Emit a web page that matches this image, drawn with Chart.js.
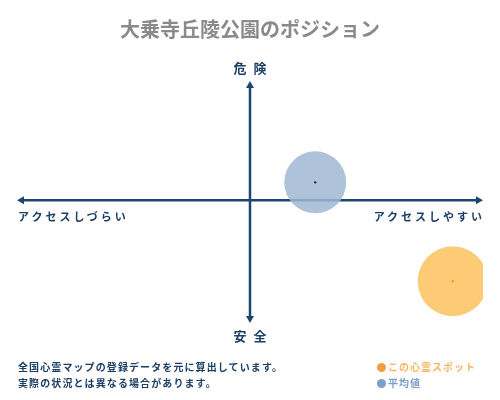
<!DOCTYPE html>
<html><head><meta charset="utf-8">
<script src="https://cdn.jsdelivr.net/npm/chart.js@4"></script>
<style>
html,body{margin:0;padding:0;background:#fff;width:500px;height:400px;overflow:hidden;}
body{position:relative;font-family:"Noto Sans CJK JP","Noto Sans",sans-serif;}
#c{position:absolute;left:0;top:0;}
.t{position:absolute;white-space:nowrap;line-height:1;}
#title{left:0;width:500px;text-align:center;top:19px;font-size:20px;font-weight:bold;color:#8a8a8a;}
.ax{color:#1c3f66;font-weight:bold;}
#top{left:0;width:500px;text-align:center;top:61px;font-size:13px;letter-spacing:7px;text-indent:7px;}
#bottom{left:0;width:500px;text-align:center;top:329px;font-size:13px;letter-spacing:7px;text-indent:7px;}
#left{left:18px;top:211px;font-size:11px;letter-spacing:3px;}
#right{right:15px;top:211px;font-size:11px;letter-spacing:3px;}
.note{left:18px;font-size:10px;letter-spacing:1.1px;color:#1c3f66;font-weight:bold;}
.leg{left:377px;font-size:10px;letter-spacing:1px;font-weight:bold;}
.dot{display:inline-block;width:9px;height:9px;border-radius:50%;vertical-align:-1px;margin-right:2px;}
</style></head>
<body>
<canvas id="c" width="500" height="400"></canvas>
<div class="t" id="title">大乗寺丘陵公園のポジション</div>
<div class="t ax" id="top">危険</div>
<div class="t ax" id="bottom">安全</div>
<div class="t ax" id="left">アクセスしづらい</div>
<div class="t ax" id="right">アクセスしやすい</div>
<div class="t note" style="top:362px">全国心霊マップの登録データを元に算出しています。</div>
<div class="t note" style="top:378px">実際の状況とは異なる場合があります。</div>
<div class="t leg" style="top:362px;color:#f5b762"><span class="dot" style="background:#f0a040"></span>この心霊スポット</div>
<div class="t leg" style="top:378px;color:#7b9ec3"><span class="dot" style="background:#7aa0c8"></span>平均値</div>
<script>
const seriesNames = ["この心霊スポット", "平均値"];
const accessValues = [87, 28];      // x: アクセスしづらい(-) → アクセスしやすい(+)
const dangerValues = [-68, 15];     // y: 安全(-) → 危険(+)
const bubbleSizes = [35, 31];
const fillColors = ["rgba(253,200,110,0.95)", "rgba(160,185,212,0.85)"];
const dotColors = ["#f0a020", "#1c2a40"];

const datasets = [];
seriesNames.forEach((n, i) => {
  datasets.push({
    label: n,
    data: [{x: accessValues[i], y: dangerValues[i], r: bubbleSizes[i]}],
    backgroundColor: fillColors[i], borderWidth: 0, order: 2
  });
});
seriesNames.forEach((n, i) => {
  datasets.push({
    label: n + " center",
    data: [{x: accessValues[i], y: dangerValues[i], r: 1.2}],
    backgroundColor: dotColors[i], borderWidth: 0, order: 1
  });
});

const axisPlugin = {
  id: 'axes',
  beforeDatasetsDraw(chart) {
    const {ctx, chartArea: a, scales: {x, y}} = chart;
    const cx = x.getPixelForValue(0), cy = y.getPixelForValue(0);
    ctx.save();
    ctx.strokeStyle = '#1c4572'; ctx.fillStyle = '#1c4572'; ctx.lineWidth = 2.5;
    ctx.beginPath();
    ctx.moveTo(a.left + 4, cy); ctx.lineTo(a.right - 4, cy);
    ctx.moveTo(cx, a.top + 4); ctx.lineTo(cx, a.bottom - 4);
    ctx.stroke();
    const h = 7, w = 4;
    ctx.beginPath();
    ctx.moveTo(a.left, cy); ctx.lineTo(a.left + h, cy - w); ctx.lineTo(a.left + h, cy + w); ctx.closePath();
    ctx.moveTo(a.right, cy); ctx.lineTo(a.right - h, cy - w); ctx.lineTo(a.right - h, cy + w); ctx.closePath();
    ctx.moveTo(cx, a.top); ctx.lineTo(cx - w, a.top + h); ctx.lineTo(cx + w, a.top + h); ctx.closePath();
    ctx.moveTo(cx, a.bottom); ctx.lineTo(cx - w, a.bottom - h); ctx.lineTo(cx + w, a.bottom - h); ctx.closePath();
    ctx.fill();
    ctx.restore();
  }
};

new Chart(document.getElementById('c'), {
  type: 'bubble',
  data: {datasets},
  options: {
    responsive: false, animation: false,
    layout: {autoPadding: false, padding: {left: 17, right: 17, top: 81, bottom: 77}},
    plugins: {legend: {display: false}, tooltip: {enabled: false}, title: {display: false}},
    scales: {
      x: {display: false, min: -100, max: 100},
      y: {display: false, min: -103, max: 100}
    }
  },
  plugins: [axisPlugin]
});
</script>
</body></html>
